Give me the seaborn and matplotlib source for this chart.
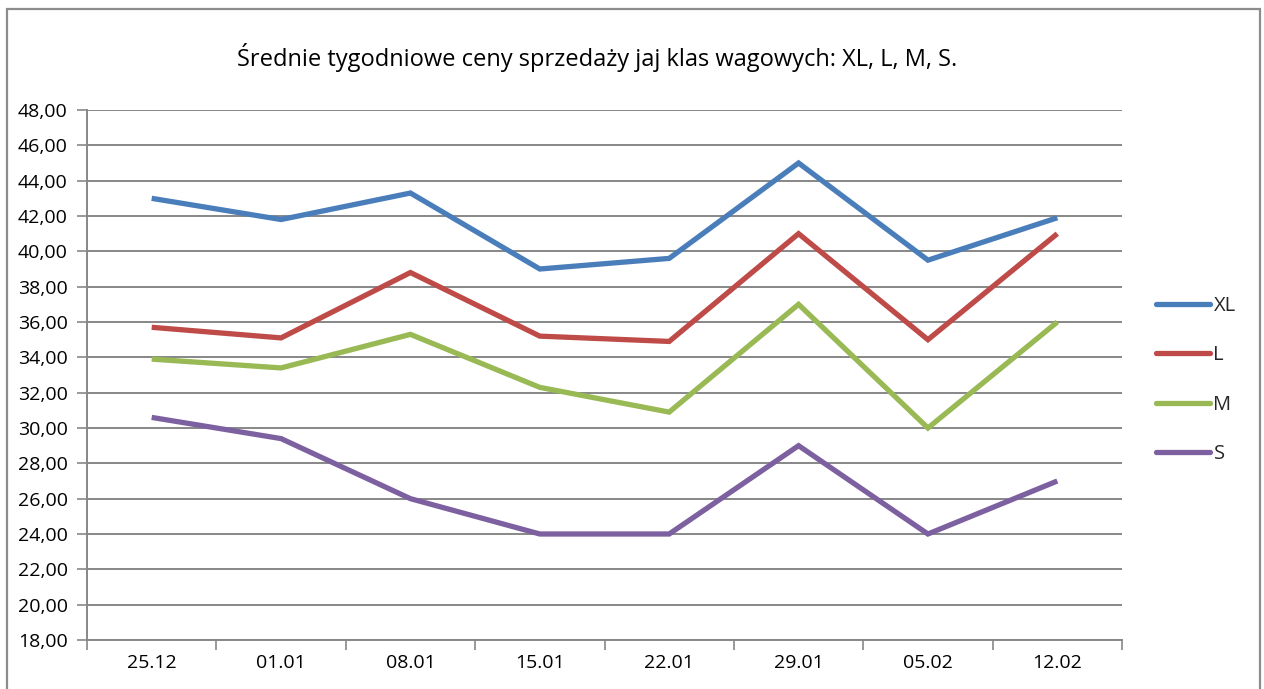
import matplotlib
matplotlib.use("Agg")
import matplotlib.pyplot as plt
import seaborn as sns
import pandas as pd
from matplotlib.patches import Rectangle
from matplotlib.ticker import FixedLocator, FuncFormatter

dates = ["25.12", "01.01", "08.01", "15.01", "22.01", "29.01", "05.02", "12.02"]
xl = [43.0, 41.8, 43.3, 39.0, 39.6, 45.0, 39.5, 41.9]
l_vals = [35.7, 35.1, 38.8, 35.2, 34.9, 41.0, 35.0, 41.0]
m_vals = [33.9, 33.4, 35.3, 32.3, 30.9, 37.0, 30.0, 36.0]
s_vals = [30.6, 29.4, 26.0, 24.0, 24.0, 29.0, 24.0, 27.0]
series_names = ["XL", "L", "M", "S"]
colors = ["#4A7EBB", "#BE4B48", "#98B954", "#7D60A0"]
title = "Średnie tygodniowe ceny sprzedaży jaj klas wagowych: XL, L, M, S."

rows = []
for name, vals in zip(series_names, [xl, l_vals, m_vals, s_vals]):
    for i, (d, v) in enumerate(zip(dates, vals)):
        rows.append({"idx": i, "date": d, "value": v, "series": name})
df = pd.DataFrame(rows)

sns.set_theme(style="white")
plt.rcParams["font.family"] = ["Open Sans", "DejaVu Sans"]

fig = plt.figure(figsize=(12.64, 6.89), dpi=100)
ax = fig.add_axes([87/1264, 1-640/689, (1122-87)/1264, (640-110)/689])

sns.lineplot(data=df, x="idx", y="value", hue="series", hue_order=series_names,
             palette=colors, linewidth=3.8, ax=ax, legend=True,
             solid_joinstyle="miter", solid_capstyle="butt")

ax.set_xlim(-0.5, len(dates) - 0.5)
ax.set_ylim(18, 48)
ax.set_xlabel("")
ax.set_ylabel("")

grid_c = "#878787"
ax.yaxis.set_major_locator(FixedLocator(list(range(18, 49, 2))))
ax.yaxis.set_major_formatter(FuncFormatter(lambda v, p: f"{v:.2f}".replace(".", ",")))
ax.grid(axis="y", color=grid_c, linewidth=1.4)
ax.grid(axis="x", visible=False)
ax.set_axisbelow(True)

ax.set_xticks([i - 0.5 for i in range(len(dates) + 1)])
ax.set_xticklabels([])
ax.set_xticks(list(range(len(dates))), minor=True)
ax.set_xticklabels(dates, minor=True)
ax.tick_params(axis="x", which="major", direction="out", length=7, width=1.2, color=grid_c, bottom=True)
ax.tick_params(axis="x", which="minor", length=0, pad=10, labelsize=14, labelcolor="black")
ax.tick_params(axis="y", which="major", direction="out", length=7, width=1.2, color=grid_c, left=True,
               labelsize=14, labelcolor="black", pad=7)

for side in ["top", "right"]:
    ax.spines[side].set_visible(False)
for side in ["left", "bottom"]:
    ax.spines[side].set_color(grid_c)
    ax.spines[side].set_linewidth(1.4)

handles, labels = ax.get_legend_handles_labels()
leg = ax.legend(handles, labels, loc="center left", bbox_to_anchor=(1148/1264, 1-380/689),
                bbox_transform=fig.transFigure, frameon=False, fontsize=14.5,
                handlelength=2.7, handletextpad=0.15, labelspacing=1.45, borderaxespad=0)
for h in leg.get_lines():
    h.set_linewidth(3.8)
    h.set_solid_capstyle("round")

fig.text(597/1264, 1 - 58/689, title, ha="center", va="center",
         fontsize=17, color="black")

fig.patches.append(Rectangle((6.5/1264, -0.05), (1260-6.5)/1264, 1.05 - 9/689,
                             transform=fig.transFigure, fill=False, edgecolor="#8C8C8C",
                             linewidth=1.6, zorder=10))

fig.savefig("out.png", dpi=100, facecolor="white")
